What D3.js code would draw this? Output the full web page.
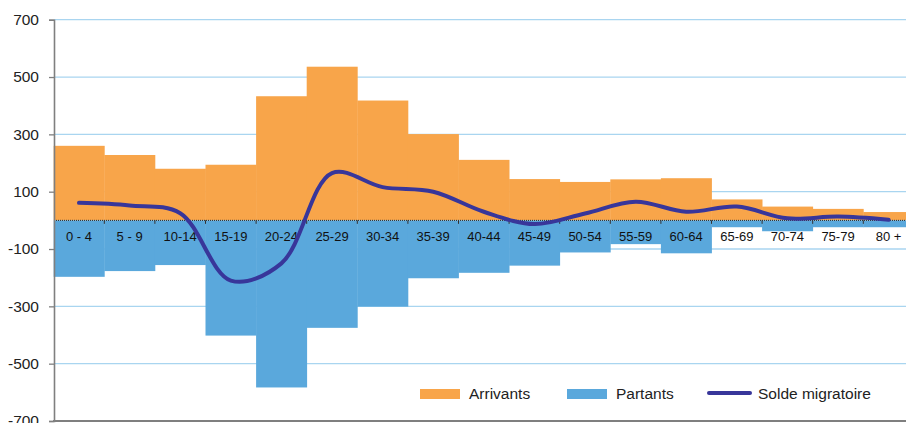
<!DOCTYPE html>
<html><head><meta charset="utf-8">
<script src="https://cdn.jsdelivr.net/npm/d3@7"></script>
<style>
body{margin:0;background:#fff;}
svg{display:block;font-family:"Liberation Sans",Arial,sans-serif;}
</style></head>
<body>
<svg id="c" width="906" height="423"></svg>
<script>
const categories = ["0 - 4","5 - 9","10-14","15-19","20-24","25-29","30-34","35-39","40-44","45-49","50-54","55-59","60-64","65-69","70-74","75-79","80 +"];
const arrivants = [260,228,180,194,433,536,418,301,211,144,134,143,147,73,48,40,29];
const partants = [-197,-177,-156,-402,-583,-375,-301,-202,-183,-158,-112,-83,-115,-24,-38,-24,-24];
const solde = [61,52,25,-210,-150,165,116,100,30,-13,24,65,30,48,7,13,2];
const yTicks = [700,500,300,100,-100,-300,-500,-700];

const svg = d3.select("#c");
const x = d3.scaleBand().domain(categories).range([53.7,913.9]).padding(0);
const y = d3.scaleLinear().domain([-700,700]).range([421,19.7]);

const cOr = "#F8A54A", cBl = "#5AA8DC", cLn = "#38369A";

// gridlines
svg.append("g").selectAll("line").data(yTicks.filter(d=>d!==-700)).join("line")
  .attr("x1",54).attr("x2",906).attr("y1",d=>y(d)).attr("y2",d=>y(d))
  .attr("stroke","#A9D5F0").attr("stroke-width",1.3);

// bars
svg.append("g").selectAll("rect").data(categories).join("rect")
  .attr("x",d=>x(d)).attr("width",x.bandwidth()+0.4)
  .attr("y",(d,i)=>y(arrivants[i])).attr("height",(d,i)=>y(0)-y(arrivants[i]))
  .attr("fill",cOr);
svg.append("g").selectAll("rect").data(categories).join("rect")
  .attr("x",d=>x(d)).attr("width",x.bandwidth()+0.4)
  .attr("y",y(0)).attr("height",(d,i)=>y(partants[i])-y(0))
  .attr("fill",cBl);

// x axis at zero
const xAxis = d3.axisBottom(x).tickSize(0).tickPadding(11);
const gx = svg.append("g").attr("transform",`translate(0,${y(0)})`).call(xAxis);
gx.select(".domain").remove();
gx.selectAll("text").attr("font-size",13).attr("fill","#111").attr("font-family","Liberation Sans, Arial, sans-serif");
svg.append("line").attr("x1",54).attr("x2",906).attr("y1",y(0)).attr("y2",y(0))
  .attr("stroke","#222").attr("stroke-width",1).attr("stroke-dasharray","1,1");
svg.append("g").selectAll("line").data(categories.slice(1)).join("line")
  .attr("x1",d=>x(d)).attr("x2",d=>x(d)).attr("y1",y(0)).attr("y2",y(0)+3.5)
  .attr("stroke","#333").attr("stroke-width",1);

// solde line
const line = d3.line().x((d,i)=>x(categories[i])+x.bandwidth()/2).y(d=>y(d)).curve(d3.curveCatmullRom.alpha(0.5));
svg.append("path").datum(solde).attr("d",line).attr("fill","none")
  .attr("stroke",cLn).attr("stroke-width",4).attr("stroke-linecap","round");

// y axis
const yAxis = d3.axisLeft(y).tickValues(yTicks).tickSize(5).tickPadding(10).tickFormat(d=>String(d));
const gy = svg.append("g").attr("transform","translate(54,0)").call(yAxis);
gy.select(".domain").attr("stroke","#7f7f7f").attr("stroke-width",1.6);
gy.selectAll(".tick line").attr("stroke","#7f7f7f").attr("stroke-width",1.3);
gy.selectAll("text").attr("font-size",15.5).attr("fill","#222").attr("font-family","Liberation Sans, Arial, sans-serif");
// bottom border
svg.append("line").attr("x1",53).attr("x2",906).attr("y1",y(-700)).attr("y2",y(-700))
  .attr("stroke","#7f7f7f").attr("stroke-width",2);

// legend
const lg = svg.append("g").attr("font-size",15.5).attr("fill","#222");
lg.append("rect").attr("x",420).attr("y",389).attr("width",40).attr("height",10).attr("fill",cOr);
lg.append("text").attr("x",469).attr("y",399).text("Arrivants");
lg.append("rect").attr("x",567).attr("y",389).attr("width",40).attr("height",10).attr("fill",cBl);
lg.append("text").attr("x",616).attr("y",399).text("Partants");
lg.append("line").attr("x1",709).attr("x2",750).attr("y1",393).attr("y2",393).attr("stroke",cLn).attr("stroke-width",4).attr("stroke-linecap","round");
lg.append("text").attr("x",758).attr("y",399).text("Solde migratoire");
</script>
</body></html>
